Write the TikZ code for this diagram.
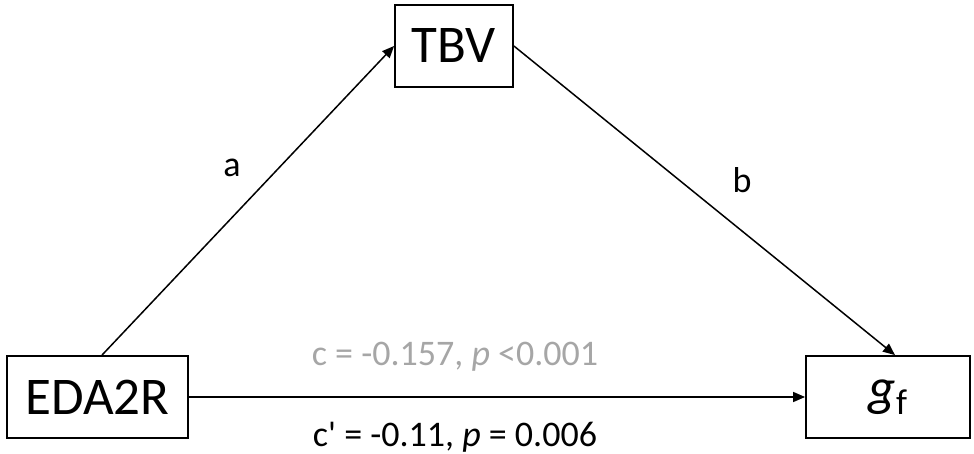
\documentclass[tikz,border=0pt]{standalone}
\usepackage{fontspec}
\setmainfont{Carlito}
\usetikzlibrary{arrows.meta,calc}
\definecolor{cgray}{HTML}{A6A6A6}

\begin{document}
\begin{tikzpicture}[x=1pt,y=-1pt,
  box/.style={draw,line width=1.8pt,minimum height=82pt,inner sep=0pt,
    font=\fontsize{53}{53}\selectfont},
  lbl/.style={font=\fontsize{36}{36}\selectfont,inner sep=0pt},
  path/.style={-{Triangle[length=12pt,width=10pt]},line width=1.5pt}]
  \useasboundingbox (0,0) rectangle (974,454);
  \node[box,minimum width=118pt] (TBV) at (454,46) {TBV};
  \node[box,minimum width=181pt] (EDA) at (97.5,397) {EDA2R};
  \node[box,minimum width=164pt] (gf) at (888,397)
    {\itshape g\upshape\raisebox{-9pt}{\fontsize{36}{36}\selectfont f}};
  \draw[path] ([xshift=4.5pt]EDA.north) -- (TBV.west);
  \draw[path] (TBV.east) -- ([xshift=7pt]gf.north);
  \draw[path] (EDA.east) -- (gf.west);
  \node[lbl] (la) at (232,168) {a};
  \node[lbl] (lb) at (742,180) {b};
  \node[lbl,text=cgray] (lc) at (455,357) {c = -0.157, \textit{p} <0.001};
  \node[lbl] (lcp) at (455,437) {c\textquotesingle{} = -0.11, \textit{p} = 0.006};
\end{tikzpicture}
\end{document}
